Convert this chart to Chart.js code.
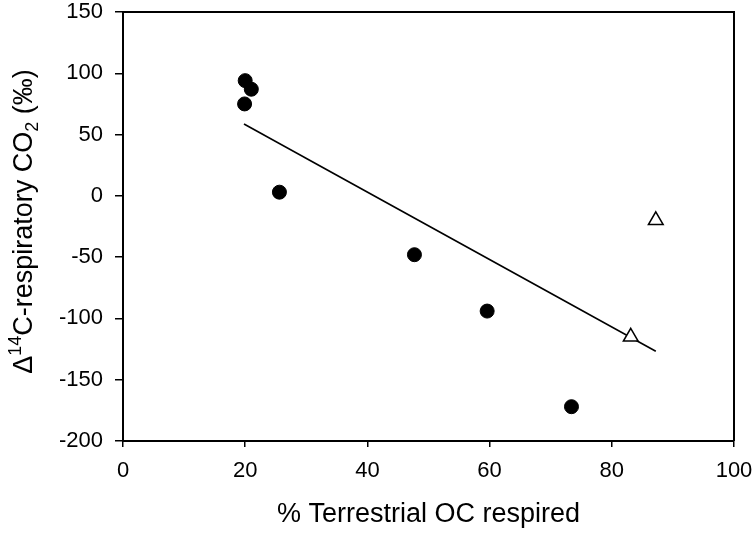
<!DOCTYPE html>
<html>
<head>
<meta charset="utf-8">
<script src="https://cdn.jsdelivr.net/npm/chart.js@4/dist/chart.umd.min.js"></script>
<style>
  html, body { margin: 0; padding: 0; background: #fff; }
  #wrap { width: 755px; height: 533px; }
</style>
</head>
<body>
<div id="wrap"><canvas id="chart"></canvas></div>
<script>
// measured points
const circleX = [20.0, 21.0, 19.9, 25.6, 47.7, 59.6, 73.4]
const circleY = [94, 87, 75, 3, -48, -94, -172]
const triangleX = [83.1, 87.2]
const triangleY = [-115, -20]
// regression line ends
const fitX = [19.8, 87.2]
const fitY = [58.6, -126.8]

const xTicks = [0, 20, 40, 60, 80, 100]
const yTicks = [-200, -150, -100, -50, 0, 50, 100, 150]

const xTitle = "% Terrestrial OC respired"
// y title pieces: text, size, baseline shift
const yTitleParts = [
  ["Δ", 27, 0],
  ["14", 18, -11],
  ["C-respiratory CO", 27, 0],
  ["2", 18, 6],
  [" (‰)", 27, 0]
]

const FONT = "'Liberation Sans', Arial, sans-serif"

function pts(xs, ys) {
  return xs.map((x, i) => ({ x: x, y: ys[i] }))
}

const framePlugin = {
  id: "frame",
  afterDraw(chart) {
    const { ctx, chartArea } = chart
    ctx.save()
    ctx.strokeStyle = "#000"
    ctx.lineWidth = 2
    ctx.beginPath()
    ctx.moveTo(chartArea.left, chartArea.top)
    ctx.lineTo(chartArea.right, chartArea.top)
    ctx.lineTo(chartArea.right, chartArea.bottom)
    ctx.stroke()
    ctx.restore()
  }
}

const yTitlePlugin = {
  id: "yTitle",
  afterDraw(chart) {
    const { ctx, chartArea } = chart
    ctx.save()
    ctx.fillStyle = "#000"
    ctx.textBaseline = "alphabetic"
    ctx.textAlign = "left"
    let total = 0
    yTitleParts.forEach(p => {
      ctx.font = p[1] + "px " + FONT
      total += ctx.measureText(p[0]).width
    })
    const cy = (chartArea.top + chartArea.bottom) / 2 - 5
    ctx.translate(32, cy)
    ctx.rotate(-Math.PI / 2)
    let x = -total / 2
    yTitleParts.forEach(p => {
      ctx.font = p[1] + "px " + FONT
      ctx.fillText(p[0], x, p[2])
      x += ctx.measureText(p[0]).width
    })
    ctx.restore()
  }
}

new Chart(document.getElementById("chart"), {
  type: "scatter",
  data: {
    datasets: [
      {
        label: "triangles",
        data: pts(triangleX, triangleY),
        pointStyle: "triangle",
        pointRadius: 8.5,
        pointBackgroundColor: "#fff",
        pointBorderColor: "#000",
        pointBorderWidth: 1.5,
        order: 0
      },
      {
        label: "circles",
        data: pts(circleX, circleY),
        pointStyle: "circle",
        pointRadius: 7,
        pointBackgroundColor: "#000",
        pointBorderColor: "#000",
        pointBorderWidth: 1,
        order: 1
      },
      {
        type: "line",
        label: "fit",
        data: pts(fitX, fitY),
        borderColor: "#000",
        borderWidth: 1.6,
        pointRadius: 0,
        fill: false,
        order: 2
      }
    ]
  },
  options: {
    responsive: true,
    maintainAspectRatio: false,
    animation: false,
    layout: { padding: { top: 12, right: 21, left: 0, bottom: 0 } },
    plugins: {
      legend: { display: false },
      tooltip: { enabled: false }
    },
    scales: {
      x: {
        type: "linear",
        min: 0,
        max: 100,
        afterFit: s => { s.height = 92; s.paddingLeft = 0; s.paddingRight = 0 },
        afterBuildTicks: s => { s.ticks = xTicks.map(v => ({ value: v })) },
        border: { display: true, color: "#000", width: 2 },
        grid: { display: true, drawOnChartArea: false, drawTicks: true, tickLength: 6, color: "#000", lineWidth: 1.5 },
        ticks: { color: "#000", padding: 13, font: { family: FONT, size: 22, lineHeight: 1 } },
        title: { display: true, text: xTitle, color: "#000", padding: { top: 0, bottom: 2 }, font: { family: FONT, size: 27, lineHeight: 1.2 } }
      },
      y: {
        type: "linear",
        min: -200,
        max: 150,
        afterFit: s => { s.width = 123; s.paddingTop = 0; s.paddingBottom = 0 },
        afterBuildTicks: s => { s.ticks = yTicks.map(v => ({ value: v })) },
        border: { display: true, color: "#000", width: 2 },
        grid: { display: true, drawOnChartArea: false, drawTicks: true, tickLength: 8, color: "#000", lineWidth: 1.5 },
        ticks: { color: "#000", padding: 12, font: { family: FONT, size: 22, lineHeight: 1 } },
        title: { display: false }
      }
    }
  },
  plugins: [framePlugin, yTitlePlugin]
})
</script>
</body>
</html>
